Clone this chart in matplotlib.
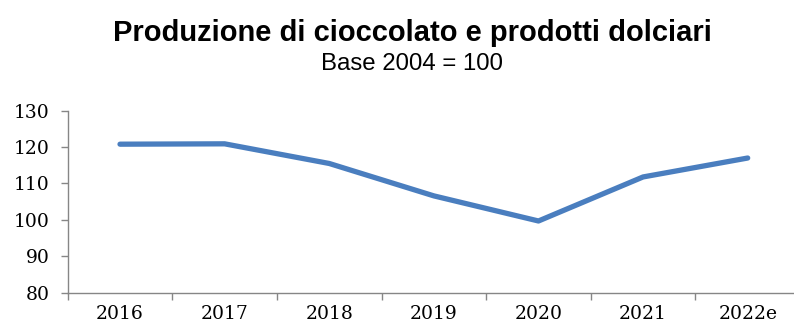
import matplotlib
matplotlib.use("Agg")
import matplotlib.pyplot as plt
import numpy as np

# Indice della produzione (base 2004 = 100)
anni = ["2016", "2017", "2018", "2019", "2020", "2021", "2022e"]
indice = [120.8, 120.9, 115.5, 106.6, 99.7, 111.8, 117.0]

fig = plt.figure(figsize=(7.94, 3.27), dpi=100)
ax = fig.add_axes([67.7 / 794, 1 - 292.7 / 327, (800 - 67.7) / 794, (292.7 - 110.7) / 327])

x = np.arange(len(anni))
ax.plot(x, indice, color="#4A7EBF", linewidth=3.8, solid_capstyle="round", solid_joinstyle="round")

ax.set_xlim(-0.5, len(anni) - 0.5)
ax.set_ylim(80, 130)
ax.set_yticks(range(80, 131, 10))

# tacche ai bordi delle categorie, etichette al centro
ax.set_xticks(np.arange(-0.5, len(anni), 1.0))
ax.set_xticklabels([])
ax.set_xticks(x, minor=True)
ax.set_xticklabels(anni, minor=True)
ax.tick_params(axis="x", which="minor", length=0, pad=9)
ax.tick_params(axis="both", which="major", length=5, width=1, color="#868686", direction="out")
ax.tick_params(axis="y", pad=8)

for lab in ax.get_xticklabels(minor=True) + ax.get_yticklabels():
    lab.set_fontfamily("DejaVu Serif")
    lab.set_fontsize(13.5)
    lab.set_color("black")

for s in ["top", "right"]:
    ax.spines[s].set_visible(False)
for s in ["left", "bottom"]:
    ax.spines[s].set_color("#868686")
    ax.spines[s].set_linewidth(1)

fig.text(412 / 794, 1 - 33 / 327, "Produzione di cioccolato e prodotti dolciari",
         ha="center", va="center", fontsize=21, fontweight="bold", family="Liberation Sans")
fig.text(412 / 794, 1 - 64 / 327, "Base 2004 = 100",
         ha="center", va="center", fontsize=17.3, family="Liberation Sans")

fig.savefig("out.png", dpi=100)
